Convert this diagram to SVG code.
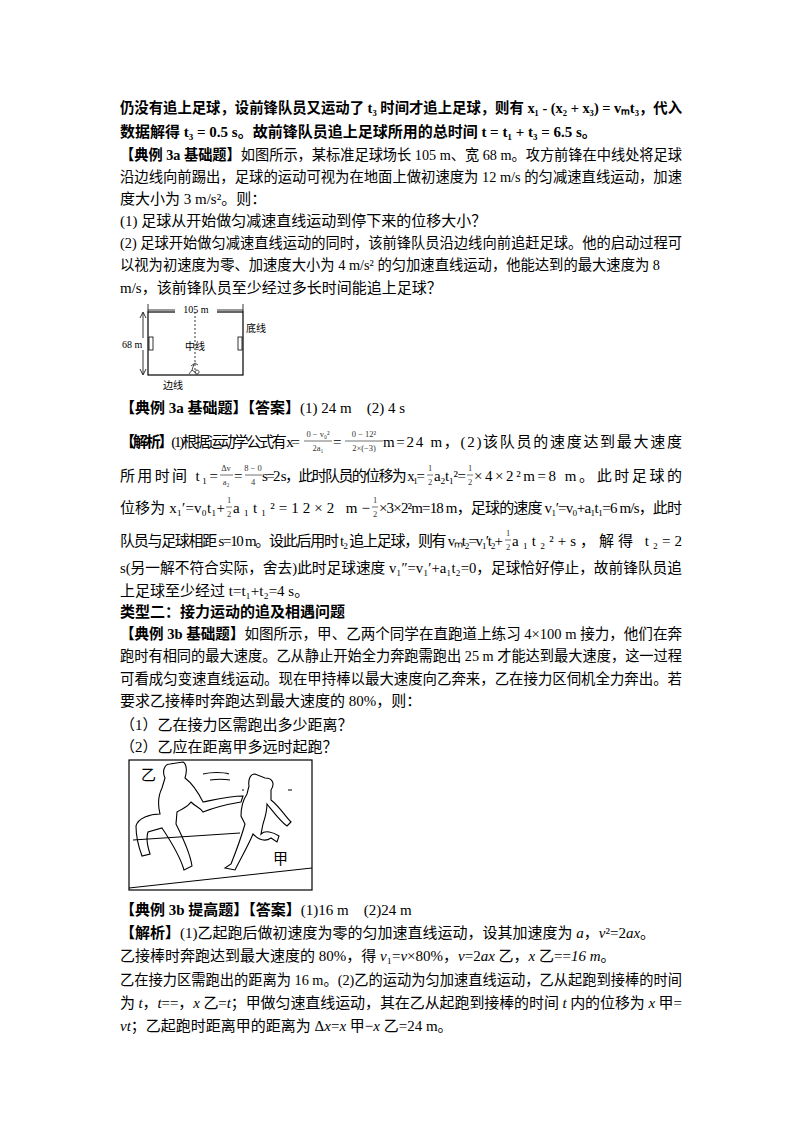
<svg xmlns="http://www.w3.org/2000/svg" width="800" height="1132" viewBox="0 0 800 1132">
<style>
text{font-family:"Liberation Serif","Noto Sans CJK SC",serif;font-size:15px;fill:#000}
.b{font-weight:bold}
.s{font-size:10px}
.f{font-size:8.5px;fill:#333}
.ln{stroke:#000;stroke-width:1.2;fill:none}
.fl{stroke:#333;stroke-width:0.7}
</style>
<rect width="800" height="1132" fill="#fff"/>
<text x="120" y="113" class="b" textLength="562" lengthAdjust="spacingAndGlyphs">仍没有追上足球，设前锋队员又运动了 t₃ 时间才追上足球，则有 x₁ - (x₂ + x₃) = vₘt₃，代入</text>
<text x="120" y="137" class="b">数据解得 t₃ = 0.5 s。故前锋队员追上足球所用的总时间 t = t₁ + t₃ = 6.5 s。</text>
<text x="120" y="160" textLength="562" lengthAdjust="spacingAndGlyphs"><tspan class="b">【典例 3a 基础题】</tspan>如图所示，某标准足球场长 105 m、宽 68 m。攻方前锋在中线处将足球</text>
<text x="120" y="182" textLength="562" lengthAdjust="spacingAndGlyphs">沿边线向前踢出，足球的运动可视为在地面上做初速度为 12 m/s 的匀减速直线运动，加速</text>
<text x="120" y="204">度大小为 3 m/s²。则：</text>
<text x="120" y="226">(1) 足球从开始做匀减速直线运动到停下来的位移大小？</text>
<text x="120" y="248" textLength="562" lengthAdjust="spacingAndGlyphs">(2) 足球开始做匀减速直线运动的同时，该前锋队员沿边线向前追赶足球。他的启动过程可</text>
<text x="120" y="270" textLength="540" lengthAdjust="spacingAndGlyphs">以视为初速度为零、加速度大小为 4 m/s² 的匀加速直线运动，他能达到的最大速度为 8</text>
<text x="120" y="293">m/s，该前锋队员至少经过多长时间能追上足球？</text>

<g id="field">
<rect x="148" y="312" width="95" height="63" class="ln"/>
<line x1="148" y1="310" x2="243" y2="310" stroke="#000" stroke-width="0.8"/>
<line x1="148" y1="304" x2="148" y2="312" stroke="#000" stroke-width="0.8"/>
<line x1="243" y1="304" x2="243" y2="312" stroke="#000" stroke-width="0.8"/>
<rect x="175" y="303" width="42" height="12" fill="#fff"/>
<text x="196" y="313" class="s" text-anchor="middle">105 m</text>
<line x1="143" y1="313" x2="143" y2="374" stroke="#000" stroke-width="0.8"/>
<path d="M140,318 L143,312 L146,318 M140,369 L143,375 L146,369" fill="none" stroke="#000" stroke-width="0.8"/>
<rect x="121" y="338" width="24" height="12" fill="#fff"/>
<text x="122" y="348" class="s">68 m</text>
<line x1="195" y1="312" x2="195" y2="372" stroke="#000" stroke-width="0.8" stroke-dasharray="2,2"/>
<rect x="149" y="337" width="4" height="13" fill="none" stroke="#000" stroke-width="0.8"/>
<rect x="238" y="337" width="4" height="13" fill="none" stroke="#000" stroke-width="0.8"/>
<text x="185" y="350" class="s">中线</text>
<text x="246" y="332" class="s">底线</text>
<text x="163" y="389" class="s">边线</text>
<path d="M191,366 l4,-3 l3,2 M194,364 l-2,6 l-3,4 M192,370 l4,3 M197,370 a2,2 0 1,0 0.1,0" fill="none" stroke="#000" stroke-width="0.7"/>
</g>

<text x="120" y="413"><tspan class="b">【典例 3a 基础题】【答案】</tspan>(1) 24 m　(2) 4 s</text>

<g id="jiexi1">
<text x="120" y="447" textLength="180" lengthAdjust="spacing"><tspan class="b">【解析】</tspan>(1)根据运动学公式有 x=</text>
<text x="318" y="437" class="f" text-anchor="middle">0 − v₀²</text><line x1="304" y1="441" x2="332" y2="441" class="fl"/><text x="318" y="451" class="f" text-anchor="middle">2a₁</text>
<text x="333" y="447">=</text>
<text x="364" y="437" class="f" text-anchor="middle">0 − 12²</text><line x1="345" y1="441" x2="383" y2="441" class="fl"/><text x="364" y="451" class="f" text-anchor="middle">2×(−3)</text>
<text x="383" y="447" textLength="299" lengthAdjust="spacing">m=24 m，(2)该队员的速度达到最大速度</text>

<text x="120" y="481" textLength="98" lengthAdjust="spacing">所用时间 t₁=</text>
<text x="226" y="471" class="f" text-anchor="middle">Δv</text><line x1="220" y1="475" x2="233" y2="475" class="fl"/><text x="226" y="485" class="f" text-anchor="middle">a₂</text>
<text x="234" y="481">=</text>
<text x="253" y="471" class="f" text-anchor="middle">8 − 0</text><line x1="245" y1="475" x2="262" y2="475" class="fl"/><text x="253" y="485" class="f" text-anchor="middle">4</text>
<text x="262" y="481" textLength="163" lengthAdjust="spacing">s=2 s，此时队员的位移为 x₁=</text>
<text x="430" y="471" class="f" text-anchor="middle">1</text><line x1="427" y1="475" x2="433" y2="475" class="fl"/><text x="430" y="485" class="f" text-anchor="middle">2</text>
<text x="434" y="481" textLength="32" lengthAdjust="spacing">a₂t₁²=</text>
<text x="470" y="471" class="f" text-anchor="middle">1</text><line x1="467" y1="475" x2="473" y2="475" class="fl"/><text x="470" y="485" class="f" text-anchor="middle">2</text>
<text x="474" y="481" textLength="208" lengthAdjust="spacing">×4×2²m=8 m。此时足球的</text>

<text x="120" y="513" textLength="105" lengthAdjust="spacing">位移为 x₁′=v₀t₁+</text>
<text x="229" y="503" class="f" text-anchor="middle">1</text><line x1="226" y1="507" x2="232" y2="507" class="fl"/><text x="229" y="517" class="f" text-anchor="middle">2</text>
<text x="233" y="513" textLength="137" lengthAdjust="spacing">a₁t₁²=12×2 m−</text>
<text x="375" y="503" class="f" text-anchor="middle">1</text><line x1="372" y1="507" x2="378" y2="507" class="fl"/><text x="375" y="517" class="f" text-anchor="middle">2</text>
<text x="379" y="513" textLength="303" lengthAdjust="spacing">×3×2²m=18 m，足球的速度 v₁′=v₀+a₁t₁=6 m/s，此时</text>

<text x="120" y="546" textLength="383" lengthAdjust="spacing">队员与足球相距 s=10 m。设此后用时 t₂ 追上足球，则有 vₘt₂=v₁′t₂+</text>
<text x="508" y="536" class="f" text-anchor="middle">1</text><line x1="505" y1="540" x2="511" y2="540" class="fl"/><text x="508" y="550" class="f" text-anchor="middle">2</text>
<text x="512" y="546" textLength="170" lengthAdjust="spacing">a₁t₂²+s，解得 t₂=2</text>
<text x="120" y="573" textLength="562" lengthAdjust="spacingAndGlyphs">s(另一解不符合实际，舍去)此时足球速度 v₁″=v₁′+a₁t₂=0，足球恰好停止，故前锋队员追</text>
<text x="120" y="596">上足球至少经过 t=t₁+t₂=4 s。</text>
</g>

<text x="120" y="617" class="b">类型二：接力运动的追及相遇问题</text>
<text x="120" y="639" textLength="562" lengthAdjust="spacingAndGlyphs"><tspan class="b">【典例 3b 基础题】</tspan>如图所示，甲、乙两个同学在直跑道上练习 4×100 m 接力，他们在奔</text>
<text x="120" y="661" textLength="562" lengthAdjust="spacingAndGlyphs">跑时有相同的最大速度。乙从静止开始全力奔跑需跑出 25 m 才能达到最大速度，这一过程</text>
<text x="120" y="684" textLength="562" lengthAdjust="spacingAndGlyphs">可看成匀变速直线运动。现在甲持棒以最大速度向乙奔来，乙在接力区伺机全力奔出。若</text>
<text x="120" y="706">要求乙接棒时奔跑达到最大速度的 80%，则：</text>
<text x="120" y="730">（1）乙在接力区需跑出多少距离？</text>
<text x="120" y="752">（2）乙应在距离甲多远时起跑？</text>

<g id="relay">
<rect x="129" y="760" width="183" height="130" class="ln" stroke-width="1"/>
<line x1="133" y1="840" x2="240" y2="833" stroke="#000"/>
<line x1="129" y1="888" x2="312" y2="868" stroke="#000"/>
<text x="141" y="780" font-size="14">乙</text>
<text x="273" y="864" font-size="14">甲</text>
<g fill="none" stroke="#000" stroke-width="1.1">
<path d="M170,764 c-6,0 -8,8 -5,14 l-3,10 c-4,8 -4,18 -2,26 c-10,0 -22,4 -24,12 c0,10 3,22 6,30 l8,-2 c-2,-6 -4,-16 -2,-22 l14,-4 c8,12 18,28 22,42 l8,-4 c-2,-14 -10,-30 -16,-42 l1,-12 c6,-4 10,-4 14,-10 c6,6 10,6 12,10 c10,-4 26,-8 38,-10 l2,-6 c-14,0 -30,4 -40,6 c-4,-8 -10,-18 -18,-24 c2,-6 2,-14 -2,-16 z"/>
<path d="M255,774 c-5,0 -7,6 -6,12 l-2,8 c-4,6 -6,14 -6,22 l4,8 c-4,14 -10,30 -14,40 l-6,4 l10,2 c6,-12 14,-26 18,-36 c6,6 12,8 18,4 l6,4 l2,-6 c-6,-4 -14,-6 -18,-2 l2,-10 c2,-6 4,-12 4,-20 c8,10 14,18 20,22 l4,-4 c-6,-6 -12,-16 -20,-22 l0,-10 c4,-6 2,-12 -6,-12 z"/>
<path d="M203,774 c8,-2 20,-2 26,0 M210,780 c8,-1 14,-1 20,0 M242,790 l2,0 M288,790 l4,0"/>
</g>
</g>

<text x="120" y="915"><tspan class="b">【典例 3b 提高题】【答案】</tspan>(1)16 m　(2)24 m</text>
<text x="120" y="938"><tspan class="b">【解析】</tspan>(1)乙起跑后做初速度为零的匀加速直线运动，设其加速度为 <tspan font-style="italic">a</tspan>，<tspan font-style="italic">v</tspan>²=2<tspan font-style="italic">ax</tspan>。</text>
<text x="120" y="961">乙接棒时奔跑达到最大速度的 80%，得 <tspan font-style="italic">v</tspan>₁=<tspan font-style="italic">v</tspan>×80%，<tspan font-style="italic">v</tspan>=2<tspan font-style="italic">ax</tspan> 乙，<tspan font-style="italic">x</tspan> 乙==<tspan font-style="italic">16 m</tspan>。</text>
<text x="120" y="985" textLength="562" lengthAdjust="spacingAndGlyphs">乙在接力区需跑出的距离为 16 m。(2)乙的运动为匀加速直线运动，乙从起跑到接棒的时间</text>
<text x="120" y="1008" textLength="562" lengthAdjust="spacing">为 <tspan font-style="italic">t</tspan>，<tspan font-style="italic">t</tspan>==，<tspan font-style="italic">x</tspan> 乙=<tspan font-style="italic">t</tspan>；甲做匀速直线运动，其在乙从起跑到接棒的时间 <tspan font-style="italic">t</tspan> 内的位移为 <tspan font-style="italic">x</tspan> 甲=</text>
<text x="120" y="1031"><tspan font-style="italic">vt</tspan>；乙起跑时距离甲的距离为 Δ<tspan font-style="italic">x</tspan>=<tspan font-style="italic">x</tspan> 甲−<tspan font-style="italic">x</tspan> 乙=24 m。</text>
</svg>
